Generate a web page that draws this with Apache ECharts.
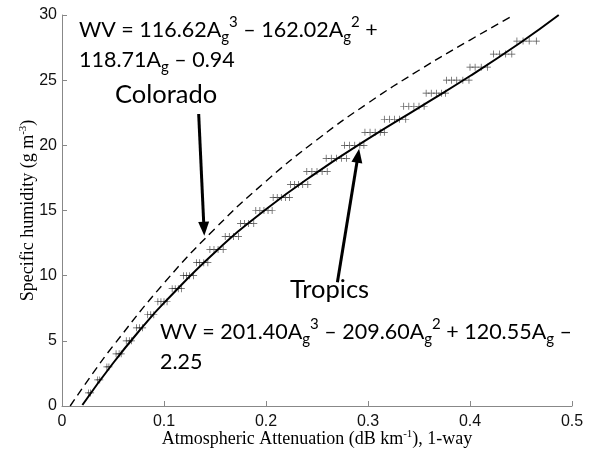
<!DOCTYPE html>
<html>
<head>
<meta charset="utf-8">
<script src="https://cdn.jsdelivr.net/npm/echarts@6/dist/echarts.min.js"></script>
<style>
html,body{margin:0;padding:0;background:#fff;}
#canvas{width:590px;height:449px;}
</style>
</head>
<body>
<div id="canvas"></div>
<script>
// fitted curves (attenuation, humidity)
var tropicsFit = [[0.020,0.08],[0.050,3.28],[0.080,6.16],[0.100,7.91],[0.150,11.80],[0.200,15.09],
  [0.250,17.93],[0.300,20.49],[0.350,22.90],[0.400,25.32],[0.450,27.91],[0.487,30.0]];
var coloradoFit = [[0.008,0.0],[0.030,2.48],[0.050,4.60],[0.100,9.43],[0.150,13.61],[0.200,17.25],
  [0.250,20.43],[0.300,23.24],[0.350,25.76],[0.400,28.08],[0.441,29.9]];

// tropics observations (+ marks), grouped by humidity level
var obsLevels = [1,2,3,4,5,6,7,8,9,10,11,12,13,14,15,16,17,18,19,20,21,22,23,24,25,26,27,28];
var obsAtten = [
  [0.026,0.028],
  [0.035,0.037],
  [0.044,0.046],
  [0.053,0.056,0.058],
  [0.063,0.066,0.068],
  [0.073,0.076,0.079],
  [0.084,0.087,0.090],
  [0.094,0.097,0.100,0.103],
  [0.108,0.111,0.114,0.117],
  [0.119,0.122,0.125,0.129],
  [0.132,0.135,0.139,0.143],
  [0.145,0.149,0.153,0.158],
  [0.160,0.164,0.168,0.173],
  [0.175,0.179,0.183,0.188],
  [0.190,0.194,0.198,0.202,0.206],
  [0.207,0.211,0.215,0.219,0.223],
  [0.224,0.228,0.232,0.236,0.241],
  [0.240,0.245,0.250,0.255,0.260],
  [0.259,0.264,0.269,0.274,0.279],
  [0.277,0.282,0.287,0.292,0.296],
  [0.297,0.302,0.307,0.312,0.316],
  [0.316,0.321,0.326,0.331,0.337],
  [0.335,0.340,0.345,0.350,0.355],
  [0.357,0.362,0.367,0.372,0.376],
  [0.377,0.382,0.387,0.393,0.399],
  [0.400,0.405,0.411,0.417],
  [0.423,0.429,0.435,0.441],
  [0.446,0.452,0.458,0.465]
];

// annotation arrows (start, tip)
var coloradoArrow = [[0.134,22.4],[0.1392,13.6]];
var tropicsArrow = [[0.270,9.5],[0.2902,19.2]];

var tropicsObs = [];
for (var i = 0; i < obsLevels.length; i++) {
  for (var j = 0; j < obsAtten[i].length; j++) {
    tropicsObs.push([obsAtten[i][j], obsLevels[i]]);
  }
}

var eqFont = 'Lato';
var eqRich = {
  m: {fontFamily: eqFont, fontSize: 21.5, lineHeight: 30, color: '#000'},
  s: {fontFamily: eqFont, fontSize: 15, lineHeight: 11, verticalAlign: 'bottom', color: '#000'},
  p: {fontFamily: eqFont, fontSize: 15, lineHeight: 25, verticalAlign: 'top', color: '#000'}
};
var nameRich = {
  t: {fontFamily: 'Liberation Serif', fontSize: 18, color: '#000', lineHeight: 20},
  p: {fontFamily: 'Liberation Serif', fontSize: 11, color: '#000', lineHeight: 17, verticalAlign: 'top'}
};
var plusPath = 'path://M4.5,0H5.5V4.5H10V5.5H5.5V10H4.5V5.5H0V4.5H4.5Z';

var myChart = echarts.init(document.getElementById('canvas'));
var option = {
  animation: false,
  backgroundColor: '#fff',
  grid: {left: 62, right: 18, top: 15, bottom: 43, containLabel: false, outerBoundsMode: 'none'},
  xAxis: {
    type: 'value', min: 0, max: 0.5, interval: 0.1,
    name: '{t|Atmospheric Attenuation (dB km}{p|-1}{t|), 1-way}',
    nameLocation: 'middle', nameGap: 23, nameMoveOverlap: false,
    nameTextStyle: {rich: nameRich},
    axisLine: {lineStyle: {color: '#888', width: 1}},
    axisTick: {inside: true, length: 5, lineStyle: {color: '#888'}},
    axisLabel: {fontFamily: 'Liberation Sans', fontSize: 16, color: '#111', margin: 8},
    splitLine: {show: false}
  },
  yAxis: {
    type: 'value', min: 0, max: 30, interval: 5,
    name: '{t|Specific humidity (g m}{p|-3}{t|)}',
    nameLocation: 'middle', nameGap: 24, nameMoveOverlap: false,
    nameTextStyle: {rich: nameRich},
    axisLine: {lineStyle: {color: '#888', width: 1}},
    axisTick: {inside: true, length: 5, lineStyle: {color: '#888'}},
    axisLabel: {fontFamily: 'Liberation Sans', fontSize: 16, color: '#111', margin: 5},
    splitLine: {show: false}
  },
  series: [
    {
      name: 'Colorado', type: 'line', data: coloradoFit, smooth: true, symbol: 'none',
      lineStyle: {color: '#000', width: 1.4, type: [8, 5]}
    },
    {
      name: 'Tropics', type: 'line', data: tropicsFit, smooth: true, symbol: 'none',
      lineStyle: {color: '#000', width: 2}
    },
    {
      name: 'Tropics obs', type: 'scatter', data: tropicsObs, symbol: plusPath, symbolSize: 7,
      itemStyle: {color: '#222'},
      markLine: {
        silent: true, animation: false,
        symbol: ['none', 'triangle'], symbolSize: [11, 14],
        label: {show: false},
        lineStyle: {color: '#000', width: 3, type: 'solid'},
        data: [
          [{coord: coloradoArrow[0]}, {coord: coloradoArrow[1]}],
          [{coord: tropicsArrow[0]}, {coord: tropicsArrow[1]}]
        ]
      }
    }
  ],
  graphic: [
    {type: 'text', left: 79, top: 15, style: {
      text: '{m|WV = 116.62A}{s|g}{p|3}{m| – 162.02A}{s|g}{p|2}{m| +}\n{m|118.71A}{s|g}{m| – 0.94}',
      rich: eqRich}},
    {type: 'text', left: 160, top: 317, style: {
      text: '{m|WV = 201.40A}{s|g}{p|3}{m| – 209.60A}{s|g}{p|2}{m| + 120.55A}{s|g}{m| –}\n{m|2.25}',
      rich: eqRich}},
    {type: 'text', left: 115, top: 82, style: {text: 'Colorado', font: '25.5px Lato', fill: '#000'}},
    {type: 'text', left: 290, top: 277, style: {text: 'Tropics', font: '25.5px Lato', fill: '#000'}}
  ]
};
myChart.setOption(option);
window.onresize = myChart.resize;
</script>
</body>
</html>
